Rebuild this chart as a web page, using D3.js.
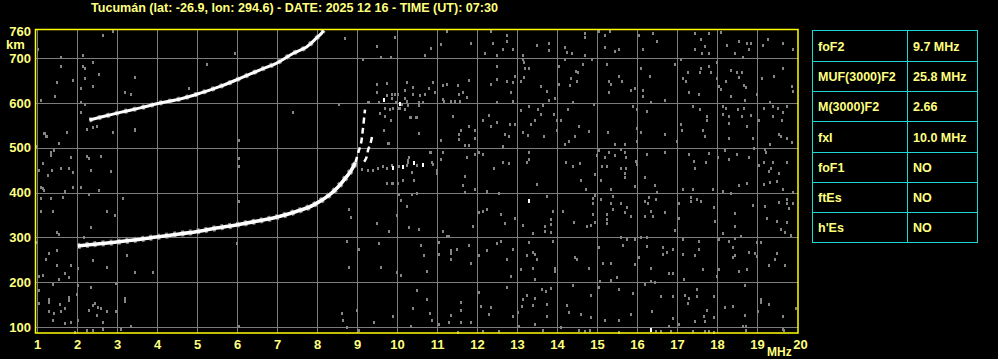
<!doctype html>
<html>
<head>
<meta charset="utf-8">
<style>
body { margin: 0; background: #000; }
svg { display: block; }
text { font-family: "Liberation Sans", Arial, sans-serif; font-weight: bold; fill: #ffff80; }
</style>
<script src="https://d3js.org/d3.v7.min.js"></script>
</head>
<body>
<svg width="998" height="359"></svg>
<script>
var title = "Tucumán (lat: -26.9, lon: 294.6) - DATE: 2025 12 16 - TIME (UT): 07:30";
var freqTicks = d3.range(1, 21);
var kmTicks = [100, 200, 300, 400, 500, 600, 700, 760];
var gridKm = [100, 200, 300, 400, 500, 600, 700];

var paramNames = ["foF2", "MUF(3000)F2", "M(3000)F2", "fxI", "foF1", "ftEs", "h'Es"];
var paramValues = ["9.7 MHz", "25.8 MHz", "2.66", "10.0 MHz", "NO", "NO", "NO"];

// F2 trace (o-mode), solid part and broken top
var lowerFreq = [2.02, 2.31, 2.89, 3.48, 3.98, 4.56, 4.98, 5.48, 5.98, 6.48, 6.98, 7.48, 7.81, 8.06, 8.31, 8.52, 8.68, 8.85, 8.96];
var lowerKm = [281, 284, 289, 295, 301, 308, 313, 321, 328, 336, 345, 358, 368, 380, 395, 412, 429, 449, 467];
var cuspFreq = [8.96, 9.04, 9.10, 9.14, 9.20];
var cuspKm = [467, 492, 510, 536, 585];
// x-mode branch
var xFreq = [9.18, 9.23, 9.28, 9.35, 9.39];
var xKm = [469, 477, 496, 514, 533];
// second hop
var upperFreq = [2.31, 2.58, 3.08, 3.58, 4.08, 4.58, 5.08, 5.58, 6.08, 6.58, 6.99, 7.41, 7.74, 7.99, 8.12, 8.16];
var upperKm = [562, 568, 579, 589, 600, 609, 622, 637, 655, 674, 689, 711, 725, 745, 756, 762];
// faint echo near 460 km
var smudge = [[9.12,452],[9.28,451],[9.41,451],[9.53,454],[9.66,459],[9.74,456],[9.87,462],[10.06,459],[10.26,462],[10.28,469],[10.49,462],[10.91,465],[10.99,451],[10.99,443]];
var smudgeWhite = [[9.91,456],[10.16,458],[10.425,467],[10.66,462],[9.675,607],[10.075,597],[13.29,382],[16.35,94]];

// background noise
var noiseLeft = [[1.03,721],[1.60,702],[1.60,683],[2.14,707],[2.14,683],[2.20,677],[2.39,692],[2.55,665],[2.64,752],[2.91,760],[1.49,647],[1.89,651],[2.09,633],[2.20,655],[2.39,638],[1.09,607],[1.45,615],[2.09,603],[2.09,581],[2.20,598],[2.26,541],[2.39,546],[2.49,549],[1.74,536],[1.20,532],[1.24,526],[2.89,536],
[3.45,657],[3.20,625],[3.34,620],[3.45,540],[5.26,687],[5.95,712],[7.39,581],[8.56,598],[8.70,746],[4.80,633],
[1.18,532],[1.225,526],[1.54,510],[1.74,536],[2.91,536],[3.45,541],[1.0,503],[1.35,491],[1.35,484],[1.43,495],[1.85,479],[1.14,467],[1.04,450],[1.375,450],[1.60,454],[1.79,454],[1.89,447],[1.27,439],[2.35,450],[2.85,449],[2.24,482],[2.31,477],[2.60,482],
[1.14,410],[1.10,412],[1.18,407],[1.89,412],[1.70,404],[2.10,412],[2.31,398],[2.54,407],[1.09,387],[1.35,387],[1.66,391],[3.14,387],[1.10,358],[1.39,360],[2.74,358],[2.95,350],[2.35,324],[1.49,313],[1.56,308],[2.18,302],[1.0,291],
[1.31,266],[1.49,271],[1.225,253],[1.49,239],[1.85,239],[2.39,250],[2.74,235],[2.02,231],[1.04,214],[1.14,216],[1.54,207],[1.71,220],[1.81,213],[1.39,196],[2.02,194],[2.35,189],[2.975,199],[1.06,184],[1.29,162],[1.29,157],[1.79,168],[1.79,161],[1.99,175],[1.04,153],[1.575,152],[1.71,142],[1.29,135],[1.43,131],[1.60,135],
[2.46,153],[2.41,149],[2.52,146],[2.60,142],[2.74,135],[2.975,135],[2.31,138],[2.49,127],[2.02,117],[1.85,112],[1.71,110],[1.39,116],[2.64,112],[3.21,164],[3.21,159],[3.35,103],[3.10,97],[2.24,94],[2.39,94],[2.64,95],[1.96,90],[3.45,222],[3.89,222],[3.24,261]];

var noiseMid = [[6.04,517],[6.04,477],[6.04,459],[6.04,382],[5.99,287],[6.04,103],[8.79,363],[8.85,345],[8.74,293],[9.04,274],[8.79,235],[8.99,138],[8.625,131],[8.66,116],[8.74,101],[9.04,94],
[9.49,333],[9.79,314],[9.54,288],[9.60,235],[9.99,222],[10.10,216],[9.99,350],[10.10,384],[10.24,370],[10.29,324],[10.56,318],[10.60,283],[10.68,261],[10.74,226],[10.49,184],[10.74,162],[10.39,142],[10.825,131],[10.875,116],[10.35,103],[9.89,125],[9.43,112],
[9.74,422],[9.89,422],[10.02,422],[10.04,398],[10.375,398],[10.49,400],[9.79,510],[9.68,540],[9.85,562],[10.35,568],[10.475,568],[10.54,532],[10.85,491],[10.29,480],[10.875,469],[10.56,603],[10.64,603],[9.975,603],[9.56,603],[9.31,603],
[9.49,726],[9.60,702],[9.95,748],[10.70,707],[10.84,722],[9.14,697],[9.84,702],
[9.49,642],[9.74,645],[10.39,636],[10.24,647],[9.49,625],[9.74,618],[9.87,620],[9.95,620],[10.03,620],[9.87,610],[10.2,610],[10.2,629],[10.41,621],[10.575,618],[10.70,621],[10.81,633],[10.91,647],[10.95,625],
[10.26,605],[10.28,595],[10.56,595],[9.28,603],[10.12,598],[10.075,588],[9.70,588],[9.825,586],[9.91,588],[10.03,588],[10.20,586],[9.575,578],[9.70,571],[9.84,562],[10.325,568],[10.49,568],[10.56,534],[9.68,540],[9.78,510],[10.825,491],[10.31,480],[10.28,473],[10.37,447],[9.74,422],[9.88,422],[10.02,422],[10.16,428],[10.425,428]];

var noiseTopRight = [[11.09,731],[11.24,761],[11.25,761],[11.84,734],[12.20,711],[12.35,761],[12.41,734],[12.49,706],[12.64,720],[12.74,752],[12.74,738],[12.91,720],[13.14,707],[13.49,729],[13.79,734],[13.81,719],[14.21,724],[14.25,714],[14.37,711],[14.70,756],[14.70,747],[14.69,707],[15.04,761],[15.20,752],[15.20,724],[15.33,761],[15.44,717],[15.56,720],[16.04,752],[16.16,720],[16.39,756],[16.49,738],[17.46,756],[17.6,743],[17.81,756],[17.71,726],[17.81,711],[17.62,711],[17.46,720],[18.10,759],[18.25,729],[18.56,738],[18.75,734],[18.85,734],[18.81,720],[18.45,711],[19.14,729],[19.27,743],[19.65,734],[19.89,720],
[11.24,642],[11.14,639],[11.53,639],[11.64,624],[11.56,620],[11.79,652],[11.14,609],[11.18,605],[11.35,605],[11.45,605],[11.74,613],[11.575,605],[12.35,642],[12.50,683],[12.50,653],[12.74,650],[12.89,646],[12.95,661],[12.85,625],[12.91,605],[12.49,603],[13.16,698],[13.18,692],[13.21,677],[13.31,677],[13.10,650],[13.18,657],[13.60,637],[13.74,627],[13.81,607],[13.96,610],[14.21,697],[14.06,683],[14.475,672],[14.53,668],[14.35,655],[14.50,650],[14.33,640],[14.04,642],[14.65,687],[14.39,603],[14.87,697],[15.25,687],[15.54,661],[15.29,650],[15.35,642],[15.29,625],[15.625,650],[15.85,630],[15.95,633],[16.10,677],[16.33,661],[16.14,630],[16.16,616],[16.35,603],[16.69,607],[16.95,687],[17.11,697],[17.27,670],[17.16,655],[17.225,648],[17.58,668],[17.60,677],[17.81,683],[17.85,670],[17.31,625],[17.56,620],[18.00,692],[17.99,655],[18.06,637],[18.10,631],[18.225,648],[18.35,674],[18.49,668],[18.54,659],[18.625,668],[18.64,702],[18.68,639],[18.725,635],[18.35,616],[18.71,607],[18.99,620],[19.125,655],[19.43,661],[19.64,677],[19.875,637],[19.89,627],[19.33,603]];

var noiseMidRight = [[11.39,572],[11.10,518],[11.56,531],[11.60,540],[11.79,549],[11.95,540],[11.95,521],[11.54,520],[11.81,506],[11.71,506],[12.14,563],[12.29,573],[12.35,549],[12.49,558],[12.825,553],[12.95,553],[12.70,531],[12.81,526],[12.64,505],[13.10,585],[13.29,593],[13.16,536],[13.27,529],[13.45,563],[13.35,553],[13.53,587],[13.64,595],[13.60,575],[13.68,526],[13.93,575],[13.99,561],[14.10,561],[14.00,540],[14.28,587],[14.56,549],[14.31,516],[14.20,509],[14.44,526],[14.81,538],[14.93,598],[15.27,536],[15.44,509],[15.70,509],[15.89,593],[16.00,587],[15.99,545],[16.10,535],[16.00,516],[16.25,582],[16.69,531],[16.99,516],[17.10,553],[17.12,540],[17.39,593],[17.575,587],[17.74,570],[17.74,561],[17.64,540],[17.70,526],[18.14,594],[18.225,588],[18.16,575],[18.31,570],[18.29,555],[18.31,523],[18.52,587],[18.625,570],[18.68,588],[18.75,549],[18.91,523],[18.85,573],[19.06,563],[19.18,588],[19.39,594],[19.52,588],[19.64,581],[19.75,593],[19.625,563],[19.41,570],[19.56,531],[19.60,526],[19.75,523],[19.875,512],[19.33,509],
[11.14,491],[11.10,474],[11.74,479],[11.95,486],[12.04,490],[12.14,486],[12.43,456],[12.64,468],[12.79,466],[13.29,490],[13.29,475],[13.24,468],[11.70,438],[14.225,468],[14.39,459],[14.58,466],[15.00,483],[15.06,496],[15.21,479],[15.31,490],[15.45,484],[15.60,497],[15.70,491],[15.725,479],[15.975,471],[15.99,464],[15.12,459],[15.24,459],[15.60,454],[15.725,454],[15.71,444],[15.71,434],[16.25,486],[16.69,491],[17.31,486],[17.43,471],[17.46,456],[17.725,469],[17.81,488],[18.02,479],[18.19,496],[18.31,474],[18.49,486],[18.79,479],[18.92,499],[19.20,497],[19.225,490],[19.18,468],[19.35,454],[19.06,462],[19.56,444],[19.75,469],[16.19,434],[14.96,442],[19.31,449],[19.39,468]];

var noiseLowRight = [[11.64,417],[11.70,402],[11.96,408],[12.25,404],[12.54,399],[13.49,419],[14.59,428],[14.73,408],[15.09,428],[15.35,408],[15.95,414],[16.45,417],[16.49,402],[17.14,408],[17.39,408],[17.89,408],[18.14,404],[18.35,399],[18.54,417],[18.75,421],[19.18,419],[19.33,424],[19.49,427],[19.64,408],[19.89,402],
[12.14,358],[12.04,356],[12.24,364],[12.60,352],[12.70,332],[12.95,343],[11.89,325],[11.14,315],[11.29,304],[11.24,303],[13.14,328],[13.39,310],[13.74,392],[13.89,360],[13.85,341],[13.85,329],[13.70,325],[13.70,315],[13.85,313],[14.14,360],[14.43,334],[14.74,326],[14.84,328],[14.89,377],[14.89,387],[14.94,395],[14.91,352],[14.94,334],[15.09,386],[15.25,352],[15.25,341],[15.25,332],[15.35,377],[15.39,392],[15.39,363],[15.60,377],[15.70,356],[15.75,369],[15.85,349],[16.20,382],[16.28,378],[16.31,390],[16.475,386],[16.20,347],[16.39,347],[16.69,356],[16.35,358],[17.04,378],[17.04,343],[16.94,317],[17.35,390],[17.35,382],[17.49,386],[17.60,382],[17.93,369],[17.96,337],[18.16,310],[18.44,355],[18.44,325],[18.60,304],[18.45,298],[18.89,372],[19.20,371],[19.25,343],[19.49,337],[19.56,380],[19.75,386],[19.75,377],[19.81,365],[19.91,377],[19.75,334],[19.60,319],[19.70,313],[19.85,305],
[11.04,289],[11.04,263],[11.35,273],[11.50,274],[11.35,265],[11.35,252],[11.79,283],[11.85,243],[12.04,261],[12.24,271],[12.50,288],[12.60,293],[12.74,252],[12.89,274],[12.85,215],[13.29,289],[13.39,268],[13.45,263],[13.24,261],[13.50,252],[13.39,233],[13.10,230],[13.45,207],[13.95,233],[13.95,226],[13.89,293],[14.46,256],[14.51,252],[14.79,233],[15.04,278],[15.14,243],[15.35,243],[15.35,205],[15.50,211],[15.08,204],[15.60,300],[15.75,297],[15.95,297],[15.95,241],[15.64,283],[16.04,256],[16.10,300],[16.24,300],[16.24,282],[16.35,233],[16.20,196],[16.35,204],[16.45,200],[16.64,278],[16.64,263],[16.74,267],[16.89,274],[16.81,221],[16.89,221],[17.14,297],[17.14,263],[17.18,207],[17.46,261],[17.54,293],[17.54,274],[17.64,230],[18.04,297],[17.99,215],[18.04,230],[18.29,293],[18.39,278],[18.39,256],[18.45,261],[18.54,226],[18.79,267],[18.74,230],[18.95,265],[18.99,258],[18.99,289],[19.10,289],[19.29,239],[19.45,252],[19.50,265],[19.70,239]];

var noiseBottomRight = [[12.04,178],[11.60,157],[12.10,148],[12.35,144],[12.29,129],[11.35,127],[11.60,139],[11.31,112],[11.60,112],[11.85,112],[11.04,107],[12.74,189],[12.89,126],[13.02,133],[13.14,163],[13.125,148],[13.24,172],[13.39,149],[13.45,166],[13.62,185],[13.725,181],[13.85,187],[13.74,152],[13.74,124],[13.45,107],[13.04,103],[14.39,193],[14.24,149],[14.31,133],[14.60,129],[14.85,172],[14.85,122],[15.04,189],[15.20,117],[15.54,185],[15.54,117],[15.89,176],[15.85,129],[16.375,137],[16.60,169],[16.91,169],[16.89,120],[16.79,103],[17.21,172],[17.29,166],[17.27,154],[17.49,185],[17.49,170],[17.74,139],[17.68,124],[17.71,114],[17.93,169],[17.93,122],[18.19,144],[18.39,148],[18.71,194],[18.71,127],[18.66,103],[18.725,102],[19.10,163],[19.10,157],[19.29,152],[19.02,135],[19.64,126],[19.975,142],[19.64,96],[17.04,107],[17.46,114],
[11.52,90],[12.14,92],[12.56,92],[13.64,94],[14.10,100],[14.56,94],[14.69,92],[14.83,94],[15.54,90],[16.475,92],[16.60,92],[16.85,92],[17.39,92],[17.71,92],[17.81,92],[17.93,90],[18.725,94],[19.68,94]];

var svg = d3.select("svg");
svg.append("rect").attr("width", 998).attr("height", 359).attr("fill", "#000");

var x = d3.scaleLinear().domain([1, 20]).range([37, 797]);
var y = d3.scaleLinear().domain([87, 765]).range([333, 29]);

// title
svg.append("text").attr("x", 91).attr("y", 12)
	.attr("font-size", "12.5px").attr("textLength", 407).attr("lengthAdjust", "spacingAndGlyphs")
	.text(title);

// grid
var grid = svg.append("g").attr("stroke", "#7c7c7c").attr("stroke-width", 1);
grid.selectAll("line.v").data(freqTicks.slice(0, 19)).enter().append("line")
	.attr("x1", function(d) { return Math.round(x(d)) + 0.5; })
	.attr("x2", function(d) { return Math.round(x(d)) + 0.5; })
	.attr("y1", 29).attr("y2", 333);
grid.selectAll("line.h").data(gridKm).enter().append("line")
	.attr("y1", function(d) { return Math.round(y(d)) + 0.5; })
	.attr("y2", function(d) { return Math.round(y(d)) + 0.5; })
	.attr("x1", 35).attr("x2", 798);

// noise
var allNoise = noiseLeft.concat(noiseMid, noiseTopRight, noiseMidRight, noiseLowRight, noiseBottomRight, smudge);
svg.append("g").attr("fill", "#858585").selectAll("rect").data(allNoise).enter().append("rect")
	.attr("x", function(d) { return Math.round(x(d[0])) - 1; })
	.attr("y", function(d) { return Math.round(y(d[1])) - 1; })
	.attr("width", 2).attr("height", 3);
svg.append("g").attr("fill", "#fff").selectAll("rect").data(smudgeWhite).enter().append("rect")
	.attr("x", function(d) { return Math.round(x(d[0])) - 1; })
	.attr("y", function(d) { return Math.round(y(d[1])) - 2; })
	.attr("width", 2).attr("height", 4);

// traces
function pts(f, k) { return f.map(function(v, i) { return [v, k[i]]; }); }
var line = d3.line().x(function(d) { return x(d[0]); }).y(function(d) { return y(d[1]); }).curve(d3.curveCatmullRom);
var tr = svg.append("g").attr("fill", "none").attr("stroke-linecap", "butt");
tr.append("path").attr("d", line(pts(lowerFreq, lowerKm))).attr("stroke", "#858585").attr("stroke-width", 6).attr("stroke-dasharray", "3 5");
tr.append("path").attr("d", line(pts(upperFreq, upperKm))).attr("stroke", "#858585").attr("stroke-width", 5).attr("stroke-dasharray", "3 6");
tr.append("path").attr("d", line(pts(lowerFreq, lowerKm))).attr("stroke", "#fff").attr("stroke-width", 3.6);
tr.append("path").attr("d", line(pts(upperFreq, upperKm))).attr("stroke", "#fff").attr("stroke-width", 3);
tr.append("path").attr("d", line(pts(cuspFreq, cuspKm))).attr("stroke", "#fff").attr("stroke-width", 2.5).attr("stroke-dasharray", "6 4");
tr.append("path").attr("d", line(pts(xFreq, xKm))).attr("stroke", "#fff").attr("stroke-width", 2.5).attr("stroke-dasharray", "6 4");

// frame
svg.append("rect").attr("x", 35.5).attr("y", 29.5).attr("width", 762.5).attr("height", 303.5)
	.attr("fill", "none").attr("stroke", "#ffff00").attr("stroke-width", 1.5);

// axes
var xAxis = svg.append("g").attr("transform", "translate(0,333)")
	.call(d3.axisBottom(x).tickValues(freqTicks).tickSize(0).tickPadding(7).tickFormat(d3.format("d")));
var yAxis = svg.append("g").attr("transform", "translate(35,0)")
	.call(d3.axisLeft(y).tickValues(kmTicks).tickSize(0).tickPadding(4).tickFormat(d3.format("d")));
[xAxis, yAxis].forEach(function(a) {
	a.select(".domain").remove();
	a.selectAll("text").attr("font-family", null).attr("font-size", "13px").attr("fill", "#ffff80");
});
xAxis.selectAll(".tick text").filter(function(d) { return d === 20; }).attr("dx", 3);
svg.append("text").attr("x", 6).attr("y", 49).attr("font-size", "13px").text("km");
svg.append("text").attr("x", 767).attr("y", 356).attr("font-size", "12px").text("MHz");

// parameter table
var rowY = d3.scaleBand().domain(paramNames).range([30.5, 242.5]);
var tbl = svg.append("g");
tbl.append("rect").attr("x", 812.5).attr("y", 30.5).attr("width", 165).attr("height", 212)
	.attr("fill", "none").attr("stroke", "#1ed6d6");
tbl.append("line").attr("x1", 907.5).attr("x2", 907.5).attr("y1", 30.5).attr("y2", 242.5).attr("stroke", "#1ed6d6");
tbl.selectAll("line.r").data(paramNames.slice(1)).enter().append("line")
	.attr("x1", 812.5).attr("x2", 977.5)
	.attr("y1", function(d) { return Math.round(rowY(d)) + 0.5; })
	.attr("y2", function(d) { return Math.round(rowY(d)) + 0.5; })
	.attr("stroke", "#1ed6d6");
tbl.selectAll("text.n").data(paramNames).enter().append("text")
	.attr("x", 818).attr("y", function(d) { return rowY(d) + rowY.bandwidth() / 2 + 5; })
	.attr("font-size", "12.5px").text(function(d) { return d; });
tbl.selectAll("text.v").data(paramValues).enter().append("text")
	.attr("x", 913).attr("y", function(d, i) { return rowY(paramNames[i]) + rowY.bandwidth() / 2 + 5; })
	.attr("font-size", "12.5px").text(function(d) { return d; });
</script>
</body>
</html>
